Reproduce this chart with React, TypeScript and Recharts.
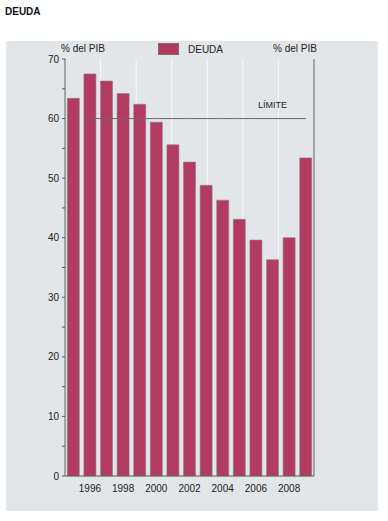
import { Bar, CartesianGrid, LabelList, Legend, Line, XAxis, YAxis, ComposedChart } from "recharts"

// Deuda, % del PIB
const years = [1995, 1996, 1997, 1998, 1999, 2000, 2001, 2002, 2003, 2004, 2005, 2006, 2007, 2008, 2009]
const deuda = [63.4, 67.5, 66.3, 64.2, 62.4, 59.4, 55.6, 52.7, 48.8, 46.3, 43.1, 39.6, 36.3, 40.0, 53.4]
const limite = [null, 60, 60, 60, 60, 60, 60, 60, 60, 60, 60, 60, 60, 60, 60]
const yTicks = [0, 5, 10, 15, 20, 25, 30, 35, 40, 45, 50, 55, 60, 65, 70]
const gridTicks = [2, 4, 6, 8, 10, 12, 14]

const data = years.map((year, i) => ({ year, deuda: deuda[i], limite: limite[i] }))

const font = "'Liberation Sans', Arial, sans-serif"
const axisColor = "#5a5a5a"
const barColor = "#b33b62"
const fs = 10

const showTen = (v: number) => (v % 10 === 0 ? `${v}` : "")

export default function App() {
  return (
    <div style={{ position: "absolute", left: 0, top: 0, width: 388, height: 521, background: "#fff", fontFamily: font }}>
      <div style={{ position: "absolute", left: 5, top: 6, fontSize: 10, fontWeight: "bold", color: "#111" }}>DEUDA</div>
      <div style={{ position: "absolute", left: 6, top: 41, width: 372, height: 470, background: "#e2e6e9" }} />
      <div style={{ position: "absolute", left: 0, top: 0 }}>
        <ComposedChart
          width={388}
          height={521}
          data={data}
          margin={{ top: 59, right: 14, bottom: 25, left: 25 }}
          barCategoryGap="14%"
        >
          <XAxis xAxisId="grid" type="number" domain={[0, 15]} ticks={gridTicks} hide />
          <CartesianGrid xAxisId="grid" yAxisId="left" horizontal={false} stroke="#f5f7f8" strokeWidth={1} />
          <XAxis
            dataKey="year"
            interval={0}
            tickFormatter={(v: number) => (v % 2 === 0 ? `${v}` : "")}
            tickLine={false}
            axisLine={{ stroke: axisColor }}
            tick={{ fontSize: fs, fill: "#222", fontFamily: font }}
            tickMargin={3}
            height={20}
          />
          <YAxis
            yAxisId="left"
            domain={[0, 70]}
            ticks={yTicks}
            tickFormatter={showTen}
            tickSize={3}
            tickMargin={3}
            width={40}
            axisLine={{ stroke: axisColor }}
            tickLine={{ stroke: axisColor }}
            tick={{ fontSize: fs, fill: "#222", fontFamily: font }}
            label={{
              content: ({ viewBox }: any) => (
                <text x={viewBox.x + viewBox.width - 4} y={viewBox.y - 7} fontSize={fs} fill="#222" fontFamily={font}>
                  % del PIB
                </text>
              ),
            }}
          />
          <YAxis
            yAxisId="right"
            orientation="right"
            domain={[0, 70]}
            ticks={yTicks}
            tickFormatter={showTen}
            tickSize={3}
            tickMargin={3}
            width={60}
            axisLine={{ stroke: axisColor }}
            tickLine={{ stroke: axisColor }}
            tick={{ fontSize: fs, fill: "#222", fontFamily: font }}
            label={{
              content: ({ viewBox }: any) => (
                <text x={viewBox.x + 3} y={viewBox.y - 7} fontSize={fs} fill="#222" fontFamily={font} textAnchor="end">
                  % del PIB
                </text>
              ),
            }}
          />
          <Legend
            verticalAlign="top"
            content={() => (
              <div style={{ position: "absolute", left: 158, top: 43, display: "flex", alignItems: "center", fontSize: fs, fontFamily: font, color: "#222" }}>
                <span style={{ display: "inline-block", width: 19, height: 10, background: barColor, border: "1px solid #7d6a72", marginRight: 9 }} />
                DEUDA
              </div>
            )}
            wrapperStyle={{ position: "absolute", left: 0, top: 0, width: 0, height: 0 }}
          />
          <Bar
            yAxisId="left"
            dataKey="deuda"
            name="DEUDA"
            fill={barColor}
            stroke="#8c7c84"
            strokeWidth={0.6}
            isAnimationActive={false}
          />
          <Line
            yAxisId="left"
            dataKey="limite"
            stroke="#6a6a6a"
            strokeWidth={1}
            dot={false}
            isAnimationActive={false}
            legendType="none"
          >
            <LabelList
              dataKey="limite"
              content={(p: any) =>
                p.index === 12 ? (
                  <text x={p.x} y={p.y - 11} fontSize={9} fill="#222" fontFamily={font} textAnchor="middle">
                    LÍMITE
                  </text>
                ) : null
              }
            />
          </Line>
        </ComposedChart>
      </div>
    </div>
  )
}
